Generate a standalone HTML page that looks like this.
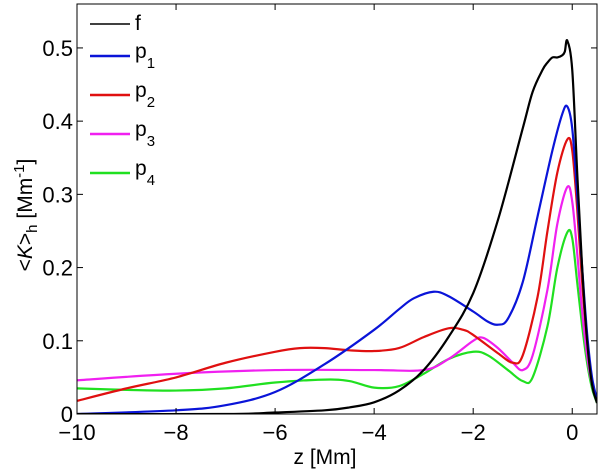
<!DOCTYPE html>
<html><head><meta charset="utf-8"><style>
html,body{margin:0;padding:0;background:#fff;}
svg text{font-family:"Liberation Sans",Arial,sans-serif;}
</style></head><body>
<svg width="600" height="470" viewBox="0 0 600 470">
<g id="plot"></g>
</svg>
<script>
const xTicks=[-10,-8,-6,-4,-2,0];
const yTicks=[0,0.1,0.2,0.3,0.4,0.5];
const xTickLabels=["\u221210","\u22128","\u22126","\u22124","\u22122","0"];
const yTickLabels=["0","0.1","0.2","0.3","0.4","0.5"];
const fZ=[-10,-7,-6,-5,-4.5,-4,-3.5,-3,-2.5,-2,-1.5,-1,-0.8,-0.6,-0.5,-0.4,-0.3,-0.2,-0.15,-0.1,0,0.1,0.2,0.3,0.4,0.5];
const fV=[0,0,0.002,0.005,0.009,0.016,0.032,0.06,0.105,0.165,0.265,0.39,0.44,0.47,0.48,0.487,0.487,0.49,0.495,0.51,0.47,0.33,0.2,0.1,0.04,0.015];
const p1Z=[-10,-8,-7,-6,-5,-4,-3.5,-3.2,-2.8,-2.5,-2,-1.7,-1.5,-1.3,-1,-0.7,-0.4,-0.2,-0.1,0,0.1,0.2,0.3,0.4,0.5];
const p1V=[0,0.005,0.012,0.03,0.068,0.115,0.143,0.158,0.167,0.161,0.14,0.126,0.122,0.13,0.18,0.27,0.36,0.41,0.42,0.39,0.3,0.2,0.11,0.05,0.02];
const p2Z=[-10,-9,-8,-7,-6,-5.5,-5,-4.5,-4,-3.5,-3,-2.5,-2.2,-2,-1.5,-1.2,-1,-0.7,-0.5,-0.3,-0.1,0,0.1,0.2,0.3,0.4,0.5];
const p2V=[0.018,0.035,0.05,0.07,0.085,0.09,0.09,0.087,0.086,0.09,0.105,0.117,0.115,0.108,0.083,0.07,0.08,0.16,0.25,0.33,0.375,0.36,0.28,0.18,0.1,0.045,0.02];
const p3Z=[-10,-8,-6,-4,-3,-2.5,-2,-1.8,-1.5,-1.2,-1,-0.8,-0.5,-0.3,-0.1,0,0.1,0.2,0.3,0.4,0.5];
const p3V=[0.046,0.055,0.06,0.06,0.06,0.075,0.1,0.104,0.09,0.07,0.06,0.08,0.17,0.26,0.31,0.29,0.22,0.14,0.08,0.04,0.02];
const p4Z=[-10,-9,-8,-7,-6,-5,-4.5,-4,-3.5,-3,-2.5,-2,-1.7,-1.3,-1,-0.8,-0.5,-0.3,-0.1,0,0.1,0.2,0.3,0.4,0.5];
const p4V=[0.035,0.033,0.032,0.035,0.043,0.047,0.045,0.036,0.038,0.055,0.075,0.085,0.08,0.06,0.045,0.05,0.12,0.2,0.248,0.24,0.18,0.12,0.07,0.035,0.015];
const seriesNames=["f","p1","p2","p3","p4"];

const L=77,R=597,T=4,B=414,xmin=-10,xmax=0.5,ymin=0,ymax=0.56;
const sx=z=>L+(z-xmin)/(xmax-xmin)*(R-L);
const sy=v=>B-(v-ymin)/(ymax-ymin)*(B-T);
const NS="http://www.w3.org/2000/svg";
const g=document.getElementById('plot');
function mk(tag,attrs){const e=document.createElementNS(NS,tag);for(const k in attrs)e.setAttribute(k,attrs[k]);g.appendChild(e);return e;}
function smooth(zs,vs){const p=zs.map((z,i)=>[sx(z),sy(vs[i])]);let d=`M${p[0][0]},${p[0][1]}`;
 for(let i=0;i<p.length-1;i++){const p0=p[i-1]||p[i],p1=p[i],p2=p[i+1],p3=p[i+2]||p2;
 const c1=[p1[0]+(p2[0]-p0[0])/6,p1[1]+(p2[1]-p0[1])/6],c2=[p2[0]-(p3[0]-p1[0])/6,p2[1]-(p3[1]-p1[1])/6];
 d+=`C${c1[0]},${c1[1]} ${c2[0]},${c2[1]} ${p2[0]},${p2[1]}`;}return d;}
const cols=["#000","#0a14d8","#e01010","#f020f0","#20e020"];
const data=[[fZ,fV],[p1Z,p1V],[p2Z,p2V],[p3Z,p3V],[p4Z,p4V]];
const clip=document.createElementNS(NS,'clipPath');clip.setAttribute('id','cp');
const cr=document.createElementNS(NS,'rect');cr.setAttribute('x',L);cr.setAttribute('y',T);cr.setAttribute('width',R-L);cr.setAttribute('height',B-T);clip.appendChild(cr);g.appendChild(clip);
for(let i=data.length-1;i>=0;i--){
 const e=mk('path',{d:smooth(data[i][0],data[i][1]),fill:'none',stroke:cols[i],'stroke-width':2.2,'clip-path':'url(#cp)'});
 
 
}
const fr=mk('rect',{x:L,y:T,width:R-L,height:B-T,fill:'none',stroke:'#000','stroke-width':1});


xTicks.forEach((t,i)=>{const x=sx(t);
 mk('line',{x1:x,x2:x,y1:B,y2:B-6,stroke:'#000'});mk('line',{x1:x,x2:x,y1:T,y2:T+6,stroke:'#000'});
 const tx=mk('text',{x:x,y:B+26,'font-size':22,'text-anchor':'middle'});tx.textContent=xTickLabels[i];
 
 });
yTicks.forEach((t,i)=>{const y=sy(t);
 mk('line',{x1:L,x2:L+6,y1:y,y2:y,stroke:'#000'});mk('line',{x1:R,x2:R-6,y1:y,y2:y,stroke:'#000'});
 const tx=mk('text',{x:L-4,y:y+8,'font-size':22,'text-anchor':'end'});tx.textContent=yTickLabels[i];
 
 });
const ly=[24,56,95,134,173];
const labels=[["f",""],["p","1"],["p","2"],["p","3"],["p","4"]];
for(let i=0;i<5;i++){
 const ln=mk('line',{x1:90,x2:130,y1:ly[i],y2:ly[i],stroke:cols[i],'stroke-width':i?2.5:1.5});
 
 
 const tx=mk('text',{x:135,y:ly[i]+(i?2:6),'font-size':21});
 tx.innerHTML=labels[i][0]+(labels[i][1]?`<tspan font-size="15" dy="10">${labels[i][1]}</tspan>`:'');
 
 
}
const xl=mk('text',{x:325,y:464,'font-size':21,'text-anchor':'middle'});xl.textContent='z [Mm]';


const yl=mk('text',{x:0,y:0,'font-size':21,'text-anchor':'middle',transform:'translate(32,215) rotate(-90)'});
yl.innerHTML='&lt;<tspan font-style="italic">K</tspan>&gt;<tspan font-size="15" dy="5">h</tspan><tspan dy="-5"> [Mm</tspan><tspan font-size="15" dy="-8">-1</tspan><tspan dy="8">]</tspan>';


</script>
</body></html>
